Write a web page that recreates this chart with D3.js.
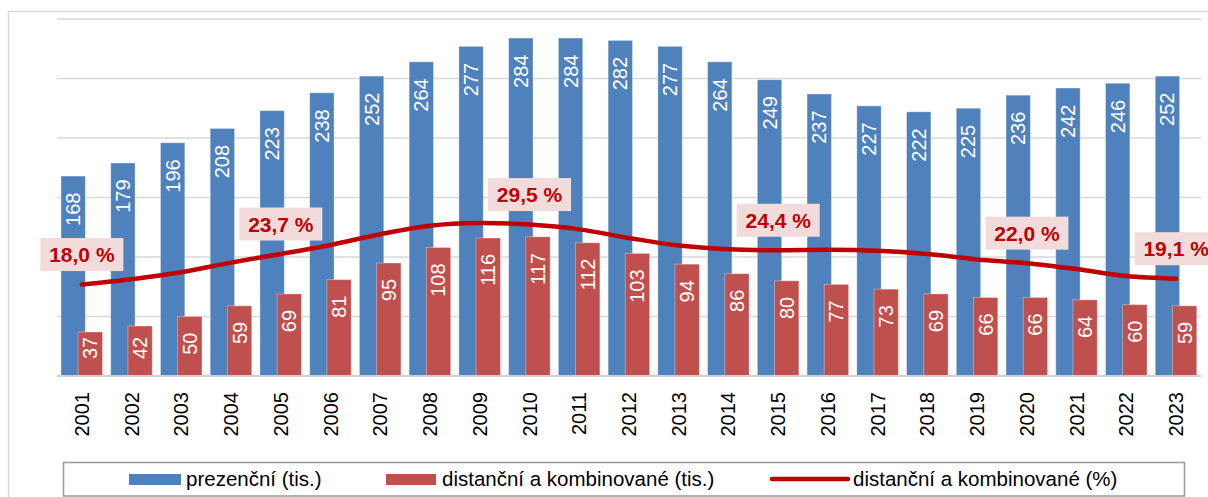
<!DOCTYPE html>
<html>
<head>
<meta charset="utf-8">
<script src="https://cdn.jsdelivr.net/npm/d3@7/dist/d3.min.js"></script>
<style>
  html, body { margin: 0; padding: 0; background: #fff; }
  svg { display: block; font-family: "Liberation Sans", Arial, sans-serif; }
</style>
</head>
<body>
<div id="chart"></div>
<script>
// data
var years = ['2001','2002','2003','2004','2005','2006','2007','2008','2009','2010','2011','2012',
             '2013','2014','2015','2016','2017','2018','2019','2020','2021','2022','2023'];
var prezencni = [168,179,196,208,223,238,252,264,277,284,284,282,277,264,249,237,227,222,225,236,242,246,252];
var distancni = [37,42,50,59,69,81,95,108,116,117,112,103,94,86,80,77,73,69,66,66,64,60,59];
var podilPct  = [18.0,19.0,20.3,22.1,23.7,25.4,27.4,29.0,29.5,29.2,28.3,26.7,25.3,24.6,24.4,24.5,24.3,23.7,22.7,22.0,20.9,19.6,19.1];
var pctLabelYears = ['2001','2005','2010','2015','2020','2023'];
var pctLabelTexts = ['18,0 %','23,7 %','29,5 %','24,4 %','22,0 %','19,1 %'];
var legendNames = ['prezenční (tis.)','distanční a kombinované (tis.)','distanční a kombinované (%)'];

var W = 1208, H = 497;
var plotLeft = 57, plotRight = 1201, plotTop = 19, base = 376;

var blue = '#4f81bd', red = '#c0504d', lineRed = '#c00000';

var svg = d3.select('#chart').append('svg')
    .attr('width', W)
    .attr('height', H);

// outer chart frame (runs off the right / bottom edge)
svg.append('rect')
    .attr('x', 8.5).attr('y', 11.5)
    .attr('width', 1300).attr('height', 600)
    .attr('fill', 'none')
    .attr('stroke', '#d9d9d9')
    .attr('stroke-width', 1.5);

var x = d3.scaleBand()
    .domain(years)
    .range([plotLeft, plotRight])
    .paddingInner(0).paddingOuter(0);

var y = d3.scaleLinear()
    .domain([0, 300])
    .range([base, plotTop]);

// secondary axis for the percentage line
var y2 = d3.scaleLinear()
    .domain([0, 70])
    .range([381, 6]);

// gridlines
svg.append('g')
  .selectAll('line')
  .data(y.ticks(6).filter(function(t){ return t > 0; }))
  .enter().append('line')
    .attr('x1', plotLeft).attr('x2', plotRight)
    .attr('y1', function(d){ return y(d); })
    .attr('y2', function(d){ return y(d); })
    .attr('stroke', '#d9d9d9')
    .attr('stroke-width', 1.5);

var bw = x.bandwidth();
var barW = bw * 0.49;

// blue bars
svg.append('g').selectAll('rect')
  .data(prezencni)
  .enter().append('rect')
    .attr('x', function(d, i){ return x(years[i]) + bw * 0.08; })
    .attr('y', function(d){ return y(d); })
    .attr('width', barW)
    .attr('height', function(d){ return base - y(d); })
    .attr('fill', blue)
    .attr('stroke', 'rgba(255,255,255,0.35)')
    .attr('stroke-width', 1);

// red bars
svg.append('g').selectAll('rect')
  .data(distancni)
  .enter().append('rect')
    .attr('x', function(d, i){ return x(years[i]) + bw * 0.425; })
    .attr('y', function(d){ return y(d); })
    .attr('width', barW)
    .attr('height', function(d){ return base - y(d); })
    .attr('fill', red)
    .attr('stroke', 'rgba(255,255,255,0.35)')
    .attr('stroke-width', 1);

// baseline
svg.append('line')
    .attr('x1', plotLeft).attr('x2', plotRight)
    .attr('y1', base).attr('y2', base)
    .attr('stroke', '#d0d0d0')
    .attr('stroke-width', 2);

// value labels inside the bars
svg.append('g').selectAll('text')
  .data(prezencni)
  .enter().append('text')
    .attr('transform', function(d, i){
      return 'translate(' + (x(years[i]) + bw * 0.08 + barW / 2) + ',' + (y(d) + 16.5) + ') rotate(-90)';
    })
    .attr('dy', '.35em')
    .style('text-anchor', 'end')
    .style('font-size', '20px')
    .style('fill', '#fff')
    .text(function(d){ return d; });

var redLabels = svg.append('g').selectAll('text')
  .data(distancni)
  .enter().append('text')
    .attr('dy', '.35em')
    .style('text-anchor', 'end')
    .style('font-size', '20px')
    .style('fill', '#fff')
    .text(function(d){ return d; });

redLabels.attr('transform', function(d, i){
  var len = this.getComputedTextLength();
  var endY = Math.min(y(d) + 16, base - 17 - len);
  return 'translate(' + (x(years[i]) + bw * 0.425 + barW / 2) + ',' + endY + ') rotate(-90)';
});

// percentage line
var line = d3.line()
    .x(function(d, i){ return x(years[i]) + bw / 2; })
    .y(function(d){ return y2(d); })
    .curve(d3.curveCatmullRom.alpha(0.5));

svg.append('path')
    .datum(podilPct)
    .attr('d', line)
    .attr('fill', 'none')
    .attr('stroke', lineRed)
    .attr('stroke-width', 4.5)
    .attr('stroke-linecap', 'round');

// percentage labels
var pl = svg.append('g').selectAll('g')
  .data(pctLabelYears)
  .enter().append('g')
    .attr('transform', function(d){
      var i = years.indexOf(d);
      return 'translate(' + (x(d) + bw / 2) + ',' + (y2(podilPct[i]) - 30) + ')';
    });

pl.append('rect')
    .attr('x', -41.5).attr('y', -16.5)
    .attr('width', 83).attr('height', 33)
    .attr('fill', '#f2dcdb');

pl.append('text')
    .attr('dy', '.36em')
    .style('text-anchor', 'middle')
    .style('font-size', '21px')
    .style('font-weight', 'bold')
    .style('fill', lineRed)
    .text(function(d, i){ return pctLabelTexts[i]; });

// x axis labels
svg.append('g').selectAll('text')
  .data(years)
  .enter().append('text')
    .attr('transform', function(d){
      return 'translate(' + (x(d) + bw / 2) + ',392) rotate(-90)';
    })
    .attr('dy', '.35em')
    .style('text-anchor', 'end')
    .style('font-size', '20px')
    .style('fill', '#000')
    .text(function(d){ return d; });

// legend
var legend = svg.append('g');
legend.append('rect')
    .attr('x', 63.5).attr('y', 462.5)
    .attr('width', 1121).attr('height', 33.5)
    .attr('fill', '#fff')
    .attr('stroke', '#999')
    .attr('stroke-width', 1.5);

legend.append('rect')
    .attr('x', 129).attr('y', 474).attr('width', 52).attr('height', 11)
    .attr('fill', blue);
legend.append('rect')
    .attr('x', 386).attr('y', 474).attr('width', 50).attr('height', 11)
    .attr('fill', red);
legend.append('line')
    .attr('x1', 772).attr('x2', 848)
    .attr('y1', 479).attr('y2', 479)
    .attr('stroke', lineRed)
    .attr('stroke-width', 4.5)
    .attr('stroke-linecap', 'round');

var legendX = [186, 442, 853];
legend.selectAll('text')
  .data(legendNames)
  .enter().append('text')
    .attr('x', function(d, i){ return legendX[i]; })
    .attr('y', 486)
    .style('font-size', '20.5px')
    .style('fill', '#000')
    .text(function(d){ return d; });
</script>
</body>
</html>
